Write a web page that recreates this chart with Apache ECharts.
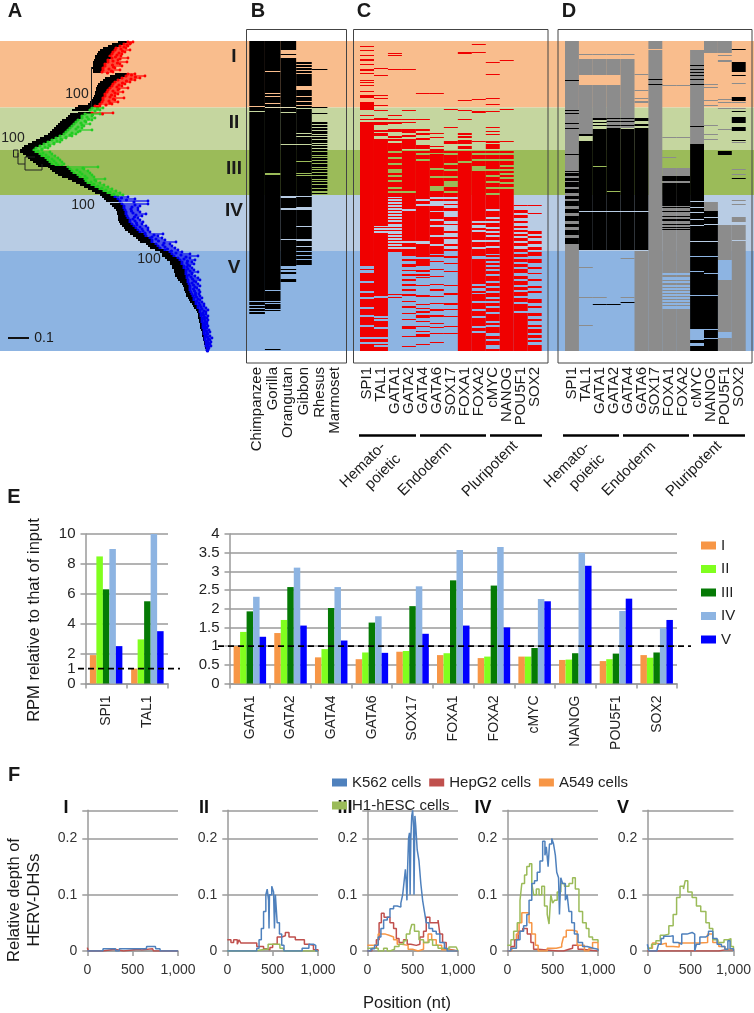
<!DOCTYPE html>
<html><head><meta charset="utf-8">
<style>html,body{margin:0;padding:0;background:#fff}#c{width:754px;height:1013px}</style>
<script src="https://cdn.jsdelivr.net/npm/echarts@6/dist/echarts.min.js"></script>
</head><body><div id="c"></div>
<script>
const FONT='"Liberation Sans",Arial,sans-serif';
// ---- band edges (rows) ----
const bandEdges=[0,66.5,109,154,210,310];
const bandColors=['#F9BD8D','#C5D69F','#9BBB59','#B8CCE4','#8DB4E2'];
const bandNames=['I','II','III','IV','V'];
// ---- tree rows: [row,left,mid,tip,clade] ----
const treeRed=[[1,118,128,133],[3,112,124,130],[5,108,120,128],[7,103,116,126],[9,100,115,130],[11,98,113,125],[13,97,112,122],[15,95,110,121],[17,95,112,128],[19,94,108,118],[21,93,108,127],[23,93,105,120],[25,93,105,122],[27,92,103,115],[29,93,103,120],[31,93,102,113],[33,115,128,135],[35,110,126,145],[37,105,122,140],[39,103,118,135],[41,100,115,130],[43,98,113,125],[45,97,112,122],[47,96,110,128],[49,96,108,118],[51,95,107,123],[53,95,105,118],[55,94,105,115],[57,93,103,124],[59,92,103,115],[61,90,102,118],[63,88,100,112],[65,78,95,100],[72,78,92,113]];
const treeGreen=[[67,75,92,103],[69,72,90,100],[73,70,85,100],[75,68,82,92],[77,66,82,95],[79,62,78,92],[81,60,76,86],[83,58,74,90],[85,56,72,84],[87,54,70,82],[89,52,68,92],[91,50,66,78],[93,48,64,76],[95,44,60,72],[97,40,56,66],[99,36,52,62],[101,32,48,60],[103,28,44,54],[105,24,40,50],[107,22,36,48],[109,20,34,42],[111,20,36,50],[113,23,40,52],[115,26,42,55],[117,28,46,58],[119,30,48,60],[121,33,50,62],[123,36,52,64],[125,38,56,62],[126,48,68,98],[128,50,70,84],[130,52,72,88],[132,55,74,90],[134,58,78,92],[136,62,80,94],[138,68,85,105],[140,72,86,96],[142,76,88,100],[144,80,92,104],[146,84,96,108],[148,88,100,112],[150,92,104,116],[152,95,108,120],[154,100,112,123]];
const treeBlue=[[156,102,115,128],[158,104,118,135],[160,106,120,148],[163,110,122,148],[165,112,124,140],[167,114,124,138],[169,116,125,138],[171,117,126,140],[173,117,126,146],[175,118,127,142],[177,118,128,138],[179,118,130,140],[181,119,130,143],[183,120,132,142],[185,122,134,146],[187,124,136,148],[189,125,138,148],[191,128,140,150],[193,130,145,163],[195,133,146,158],[197,136,150,162],[199,138,152,165],[201,140,152,176],[203,146,156,170],[205,148,158,172],[207,150,160,175],[209,155,165,178],[211,160,170,182],[213,162,172,190],[215,162,174,198],[217,165,178,190],[219,167,180,195],[221,170,182,192],[223,170,182,194],[225,172,184,190],[227,172,184,192],[229,174,186,194],[231,174,186,198],[233,175,186,192],[235,175,187,195],[237,177,187,198],[239,178,188,200],[241,180,188,196],[243,182,189,198],[245,183,190,200],[247,184,190,197],[249,184,190,199],[251,185,191,200],[253,186,192,199],[255,186,193,200],[257,188,194,202],[259,189,194,200],[261,190,196,202],[263,192,196,204],[265,193,198,204],[267,194,198,206],[269,196,200,208],[271,197,200,206],[273,198,201,206],[275,198,201,208],[277,198,202,207],[279,199,202,208],[281,199,202,207],[283,200,203,207],[285,200,203,208],[287,200,203,207],[289,201,204,209],[291,202,204,210],[293,202,204,208],[295,202,205,210],[297,203,205,212],[299,203,205,210],[301,204,206,211],[303,204,206,210],[305,205,206,211],[307,205,207,209],[309,206,207,208]];
const treeStems=[[91.5,26],[91.5,66],null,[13.5,109],[13.5,116],[18,116],[18,109],[13.5,109],null,[18,112],[18,123],[25,123],[25,116],[35,116],null,[25,123],[25,129],[42,129],[42,123]];
const treeBoot=[['100',77,53],['100',13,97],['100',83,164],['100',149,218]];
// ---- panel B ----
const species=['Chimpanzee','Gorilla','Orangutan','Gibbon','Rhesus','Marmoset'];
const bChimp=[[0,65],[66,70],[71,260],[261,264],[265,267],[268,270],[271,273]];
const bGorilla=[[0,30],[31,52],[53,55],[56,62],[63,66],[67,132],[134,249],[250,260],[261,262],[263,268],[269,270],[308,309]];
const bOrangutan=[[0,9],[13,14],[17,66],[67,71],[72,103],[104,155],[157,167],[169,198],[199,225],[228,229],[231,233],[238,241]];
const bGibbon=[[21,23],[24,26],[27,29],[30,32],[33,45],[49,55],[56,60],[61,64],[65,67],[68,92],[93,95],[96,103],[104,120],[121,132],[133,134],[135,155],[156,166],[169,185],[186,198],[200,205],[206,210],[211,214],[215,218],[219,224]];
const bRhesus=[[28,29],[66,67],[72,73],[81,83],[84,86],[87,89],[90,93],[94,95],[96,98],[99,102],[103,104],[105,107],[108,110],[111,114],[115,116],[117,119],[120,122],[123,126],[127,128],[129,131],[132,134],[135,138],[139,140],[141,143],[144,147],[148,150],[152,153]];
const bMarmoset=[];
// ---- TF list ----
const tfs=['SPI1','TAL1','GATA1','GATA2','GATA4','GATA6','SOX17','FOXA1','FOXA2','cMYC','NANOG','POU5F1','SOX2'];
// ---- panel C ----
const cSPI1=[[5,6],[9,10],[14,15],[18,20],[23,24],[28,30],[32,33],[39,40],[41,42],[44,45],[50,51],[54,57],[61,69],[74,75],[78,79],[81,225],[228,229],[232,240],[242,250],[252,256],[258,266],[268,274],[276,284],[286,296],[298,301],[303,310]];
const cTAL1=[[27,28],[34,35],[54,55],[57,58],[64,65],[69,70],[77,79],[81,84],[89,91],[92,95],[98,185],[186,187],[189,190],[192,255],[257,275],[277,278],[280,286],[288,296],[298,301],[303,304],[306,310]];
const cGATA1=[[12,13],[14,15],[28,29],[74,75],[78,79],[81,83],[88,91],[95,97],[98,100],[102,110],[112,116],[118,122],[124,128],[132,134],[136,139],[141,146],[148,150],[152,156],[157,158],[160,161],[163,164],[166,167],[169,170],[172,173],[175,176],[178,179],[181,183],[186,187],[189,190],[193,194],[196,197],[199,200],[202,203],[205,206],[208,211],[253,254],[256,257]];
const cGATA2=[[28,29],[69,70],[78,79],[81,82],[88,92],[94,96],[98,108],[110,150],[152,168],[170,200],[202,206],[208,215],[218,220],[223,226],[229,230],[233,235],[238,240],[243,245],[248,250],[253,255],[260,261],[265,267],[272,273],[278,279],[285,288],[295,296],[305,306]];
const cGATA4=[[52,53],[78,79],[88,90],[92,94],[97,99],[104,108],[110,112],[114,118],[120,158],[160,163],[165,200],[203,216],[218,225],[229,231],[233,235],[236,237],[244,245],[254,256],[263,264],[267,268],[270,272],[274,277],[280,281],[285,286],[290,291],[293,296],[303,304]];
const cGATA6=[[52,53],[92,93],[96,97],[105,106],[108,112],[113,127],[129,135],[137,145],[150,156],[158,160],[165,170],[171,178],[180,184],[186,194],[196,203],[205,213],[214,216],[220,221],[228,229],[235,236],[243,244],[248,250],[255,256],[262,263],[268,270],[274,276],[282,283],[286,287],[292,293],[301,302]];
const cSOX17=[[68,69],[86,87],[100,103],[110,112],[114,122],[124,128],[130,135],[137,140],[146,150],[152,156],[158,160],[163,164],[167,170],[176,180],[183,184],[190,192],[196,198],[203,205],[208,210],[215,217],[222,223],[230,231],[244,245],[252,254],[262,264],[268,269],[275,276],[285,286],[292,293]];
const cFOXA1=[[11,13],[59,60],[69,70],[78,79],[92,94],[95,97],[99,103],[105,108],[110,120],[122,310]];
const cFOXA2=[[3,4],[11,12],[58,59],[70,72],[100,101],[110,112],[114,118],[120,125],[130,180],[182,184],[187,189],[191,199],[201,206],[208,215],[218,243],[245,247],[250,252],[253,260],[262,268],[270,275],[277,285],[287,290],[292,310]];
const cMYC=[[21,22],[33,34],[57,58],[63,64],[70,71],[86,87],[90,91],[93,94],[100,102],[103,108],[110,112],[114,118],[120,128],[130,134],[136,140],[142,146],[148,152],[154,168],[170,176],[178,180],[182,186],[188,190],[192,194],[196,199],[201,205],[207,213],[214,216],[218,220],[222,224],[226,228],[230,233],[235,240],[242,245],[247,250],[252,256],[258,260],[262,265],[267,271],[273,280],[282,284],[286,292],[295,298],[300,304],[308,310]];
const cNANOG=[[19,20],[68,69],[100,101],[110,112],[114,118],[120,124],[126,128],[130,132],[134,136],[138,141],[143,146],[148,310]];
const cPOU5F1=[[164,165],[169,172],[174,177],[180,182],[185,187],[189,191],[193,195],[197,200],[202,205],[208,211],[213,216],[218,221],[223,226],[228,232],[235,238],[240,244],[246,249],[251,255],[257,261],[263,270],[272,310]];
const cSOX2=[[164,165],[172,173],[190,193],[195,197],[200,203],[206,209],[211,215],[218,222],[226,228],[232,233],[238,240],[245,247],[250,252],[258,262],[265,267],[272,275],[278,280],[284,286],[288,292],[294,297],[299,301],[304,310]];
// ---- panel D: grey (no-motif) and black (motif) runs ----
const dGrey=[
 [[0,310]],
 [[13,14],[18,34],[44,94],[226,227],[256,257],[284,285]],
 [[13,14],[18,34],[44,77],[256,257]],
 [[13,14],[18,34],[44,87]],
 [[13,14],[18,87],[217,218],[256,257]],
 [[33,34],[49,50],[57,58],[60,62],[210,310]],
 [[0,8],[9,310]],
 [[44,45],[96,97],[116,117],[127,232],[234,236],[239,240],[242,244],[246,247],[249,250],[252,253],[255,256],[258,259],[261,262],[264,265],[268,310]],
 [[44,45],[96,97],[127,232],[234,236],[239,240],[242,244],[246,247],[249,250],[252,253],[255,256],[258,259],[261,262],[264,265],[268,310]],
 [[9,103]],
 [[0,12],[43,44],[46,47],[59,60],[64,65],[84,85],[93,94],[98,99],[161,170]],
 [[0,12],[14,15],[19,21],[58,59],[61,62],[67,68],[88,89],[184,219],[239,291],[297,310]],
 [[42,43],[56,57],[61,62],[67,68],[101,102],[128,129],[133,134],[159,160],[163,164],[176,181],[184,199],[200,310]]
];
const dBlack=[
 [[39,40],[69,70],[72,73],[82,83],[87,88],[113,114],[130,131],[132,135],[137,140],[141,146],[148,152],[155,158],[160,165],[168,172],[175,180],[183,186],[189,194],[197,203]],
 [[93,95],[100,170],[171,209]],
 [[77,79],[81,82],[84,85],[88,125],[126,170],[171,209],[263,264]],
 [[77,78],[80,81],[84,85],[87,150],[151,170],[171,209],[263,264]],
 [[77,78],[80,81],[84,85],[88,170],[171,209],[261,262]],
 [[77,80],[83,85],[87,170],[171,209]],
 [[38,39],[43,44]],
 [[135,140],[142,165],[166,167],[170,171],[175,176],[178,180],[183,184],[186,187],[188,189]],
 [[135,140],[142,165],[166,167],[170,171],[175,176],[178,180],[183,184],[186,187],[188,189]],
 [[24,25],[28,29],[31,32],[34,35],[38,39],[43,44],[85,86],[103,160],[161,166],[167,171],[172,178],[179,184],[185,200],[201,215],[216,230],[231,254],[255,288],[299,302],[305,310]],
 [[170,176],[177,183],[184,200],[201,215],[216,232],[233,254],[255,288],[289,297],[298,310]],
 [[110,114]],
 [[8,9],[21,31],[34,35],[56,60],[70,71],[76,82],[86,90],[99,100],[137,138]]
];
// ---- panel E ----
const eNames=['I','II','III','IV','V'];
const eColors=['#F79646','#80FF1E','#057A05','#8DB4E2','#0000FF'];
const eLeftCats=['SPI1','TAL1'];
const eLeftI=[1.9,1.0],eLeftII=[8.5,2.95],eLeftIII=[6.3,5.5],eLeftIV=[9.0,10],eLeftV=[2.5,3.5];
const eCats=['GATA1','GATA2','GATA4','GATA6','SOX17','FOXA1','FOXA2','cMYC','NANOG','POU5F1','SOX2'];
const eI=[1.0,1.35,0.7,0.65,0.85,0.76,0.68,0.72,0.63,0.6,0.76];
const eII=[1.38,1.7,0.92,0.83,0.87,0.81,0.72,0.72,0.64,0.65,0.69];
const eIII=[1.93,2.58,2.02,1.63,2.07,2.76,2.62,0.95,0.81,0.8,0.83];
const eIV=[2.32,3.1,2.58,1.8,2.6,3.57,3.65,2.26,3.5,1.94,1.48];
const eV=[1.25,1.55,1.15,0.82,1.33,1.55,1.5,2.2,3.15,2.27,1.7];
// ---- panel F ----
const fNames=['K562 cells','HepG2 cells','A549 cells','H1-hESC cells'];
const fColors=['#4F81BD','#C0504D','#F79646','#9BBB59'];
const f1K=[[0,0],[170,0],[175,0.004],[310,0.004],[315,0],[350,0],[355,0.004],[650,0.004],[655,0.008],[750,0.008],[755,0.004],[800,0.004],[805,0],[1000,0]];
const f1H=[[0,0.006],[12,0],[170,0],[175,0.003],[300,0.003],[305,0],[400,0],[405,0.003],[560,0.002],[600,0.004],[720,0.003],[730,0],[1000,0]];
const f1A=[[0,0],[1000,0]];
const f1E=[[0,0],[1000,0]];
const f2K=[[0,0],[300,0],[325,0.005],[350,0.02],[375,0.04],[400,0.07],[425,0.1],[440,0.11],[455,0.09],[460,0.04],[465,0.1],[490,0.115],[510,0.105],[520,0.04],[530,0.1],[550,0.05],[575,0.03],[600,0.01],[625,0],[800,0],[825,0.005],[900,0.012],[950,0.01],[975,0],[1000,0]];
const f2H=[[0,0.02],[40,0.015],[70,0.02],[110,0.012],[130,0.02],[150,0.014],[300,0.014],[325,0.008],[400,0.004],[430,0.002],[470,0.006],[500,0.012],[550,0.025],[600,0.027],[640,0.033],[680,0.025],[750,0.02],[800,0.02],[850,0.012],[900,0.01],[950,0.002],[1000,0]];
const f2A=[[0,0],[1000,0]];
const f2E=[[0,0],[300,0],[320,0.003],[420,0.003],[450,0.012],[550,0.012],[580,0.005],[620,0],[1000,0]];
const f3K=[[0,0],[40,0.004],[80,0.01],[120,0.025],[150,0.04],[180,0.055],[220,0.06],[250,0.075],[290,0.08],[330,0.078],[370,0.085],[390,0.1],[410,0.13],[420,0.145],[430,0.12],[437,0.09],[445,0.15],[455,0.2],[465,0.21],[472,0.1],[480,0.2],[490,0.24],[500,0.25],[510,0.22],[515,0.1],[525,0.24],[535,0.22],[550,0.18],[570,0.16],[590,0.12],[610,0.09],[630,0.07],[650,0.05],[680,0.04],[720,0.035],[760,0.03],[800,0.015],[850,0.005],[880,0],[1000,0]];
const f3H=[[0,0],[50,0.005],[100,0.02],[130,0.05],[155,0.067],[185,0.06],[215,0.06],[250,0.05],[290,0.04],[320,0.022],[350,0.015],[400,0.02],[440,0.012],[480,0.01],[540,0.012],[580,0.025],[620,0.035],[650,0.06],[690,0.05],[750,0.05],[780,0.055],[800,0.03],[830,0.015],[870,0.003],[900,0],[1000,0]];
const f3A=[[0,0.01],[60,0.012],[120,0.03],[160,0.03],[200,0.028],[240,0.025],[290,0.02],[330,0.012],[380,0.01],[450,0.003],[500,0],[560,0.003],[620,0.015],[670,0.03],[710,0.02],[760,0.01],[820,0.002],[900,0],[1000,0]];
const f3E=[[0,0.005],[60,0.005],[120,0],[180,0.005],[220,0],[250,0.003],[300,0.008],[350,0.012],[400,0.018],[430,0.03],[470,0.035],[490,0.047],[520,0.035],[570,0.02],[620,0.015],[680,0.02],[720,0.01],[780,0.005],[850,0.003],[900,0.007],[980,0.007],[1000,0]];
const f4K=[[0,0],[40,0.005],[100,0.02],[140,0.035],[180,0.045],[215,0.065],[240,0.09],[270,0.12],[300,0.125],[330,0.14],[360,0.16],[390,0.195],[415,0.17],[430,0.185],[450,0.15],[465,0.19],[490,0.2],[510,0.19],[530,0.17],[545,0.14],[565,0.13],[575,0.065],[590,0.13],[610,0.12],[640,0.09],[660,0.1],[680,0.07],[710,0.05],[740,0.03],[780,0.015],[830,0.008],[880,0.005],[950,0.003],[1000,0]];
const f4H=[[0,0],[40,0.008],[80,0.02],[120,0.035],[170,0.04],[220,0.03],[260,0.015],[290,0.003],[340,0],[560,0],[620,0.003],[680,0.005],[720,0.01],[780,0.003],[820,0],[1000,0]];
const f4A=[[0,0],[50,0.005],[100,0.03],[130,0.05],[160,0.068],[210,0.068],[240,0.05],[270,0.03],[310,0.01],[340,0],[440,0.005],[540,0.007],[600,0.012],[620,0.025],[650,0.037],[720,0.035],[770,0.01],[850,0],[900,0.005],[940,0.015],[1000,0]];
const f4E=[[0,0.01],[40,0.02],[70,0.035],[110,0.05],[140,0.09],[160,0.12],[190,0.135],[215,0.15],[245,0.155],[270,0.12],[290,0.1],[320,0.11],[350,0.1],[380,0.115],[410,0.08],[440,0.065],[460,0.048],[480,0.1],[500,0.085],[520,0.09],[550,0.105],[590,0.12],[630,0.115],[680,0.12],[720,0.13],[750,0.11],[790,0.07],[830,0.05],[870,0.04],[900,0.025],[940,0.02],[1000,0.015]];
const f5K=[[0,0.012],[20,0],[110,0],[130,0.012],[160,0.022],[190,0.026],[260,0.027],[300,0.015],[360,0.012],[400,0.03],[460,0.033],[520,0.03],[550,0],[570,0.012],[610,0.025],[680,0.028],[710,0.035],[760,0.022],[810,0.012],[860,0.008],[900,0.003],[935,0.018],[960,0.004],[1000,0]];
const f5H=[[0,0],[790,0],[830,0.002],[900,0.002],[1000,0]];
const f5A=[[0,0.005],[60,0.014],[100,0.012],[170,0.014],[220,0.008],[300,0.007],[370,0.014],[450,0.014],[520,0.014],[600,0.015],[700,0.03],[760,0.015],[830,0.008],[900,0.003],[1000,0]];
const f5E=[[0,0.005],[50,0.012],[100,0.018],[150,0.028],[200,0.03],[250,0.045],[300,0.065],[340,0.095],[380,0.115],[420,0.11],[440,0.125],[470,0.105],[520,0.095],[570,0.08],[620,0.07],[680,0.05],[720,0.04],[760,0.02],[820,0.015],[890,0.02],[940,0.022],[970,0.008],[1000,0.002]];
const fPanels=[['I',f1K,f1H,f1A,f1E],['II',f2K,f2H,f2A,f2E],['III',f3K,f3H,f3A,f3E],['IV',f4K,f4H,f4A,f4E],['V',f5K,f5H,f5A,f5E]];

// ---- layout ----
const grids=[],xAxes=[],yAxes=[],series=[],gfx=[];
function addGrid(g,x,y){grids.push(g);const i=grids.length-1;xAxes.push(Object.assign({gridIndex:i},x));yAxes.push(Object.assign({gridIndex:i},y));return i;}
const hiddenAxis=a=>Object.assign({show:false},a);
const TOP=41,H=310;
const rowAxis=hiddenAxis({type:'value',min:0,max:310,inverse:true});
// bands
const gBand=addGrid({left:0,top:TOP,width:754,height:H},hiddenAxis({type:'value',min:0,max:1}),rowAxis);
series.push({type:'custom',xAxisIndex:gBand,yAxisIndex:gBand,z:-5,silent:true,clip:false,
 data:bandNames.map((n,i)=>[0,bandEdges[i],bandEdges[i+1],i]),
 renderItem:(p,api)=>{const a=api.coord([0,api.value(1)]),b=api.coord([1,api.value(2)]);
  return {type:'rect',shape:{x:a[0],y:a[1],width:b[0]-a[0],height:b[1]-a[1]},style:{fill:bandColors[api.value(3)]}};}});
// tree
const gTree=addGrid({left:0,top:TOP,width:246,height:H},hiddenAxis({type:'value',min:0,max:246}),rowAxis);
const treeCols=['#ff0000','#22cc22','#0000ee'];
const treeData=[...treeRed.map(r=>[...r,0]),...treeGreen.map(r=>[...r,1]),...treeBlue.map(r=>[...r,2])];
series.push({type:'custom',xAxisIndex:gTree,yAxisIndex:gTree,silent:true,clip:false,data:treeData,
 renderItem:(p,api)=>{const y=api.value(0),L=api.coord([api.value(1),y]),M=api.coord([api.value(2),y]),T=api.coord([api.value(3),y]),c=treeCols[api.value(4)];
  return {type:'group',children:[
   {type:'line',shape:{x1:L[0],y1:L[1],x2:M[0],y2:M[1]},style:{stroke:'#000',lineWidth:2}},
   {type:'line',shape:{x1:M[0],y1:M[1],x2:T[0],y2:T[1]},style:{stroke:c,lineWidth:1.2}},
   {type:'circle',shape:{cx:M[0],cy:M[1],r:1.6},style:{fill:c}},
   {type:'circle',shape:{cx:(M[0]+T[0])/2,cy:M[1]+1,r:1.6},style:{fill:c}},
   {type:'circle',shape:{cx:T[0],cy:T[1],r:1.4},style:{fill:c}}]};}});
series.push({type:'line',xAxisIndex:gTree,yAxisIndex:gTree,silent:true,showSymbol:false,connectNulls:false,clip:false,
 data:treeStems.map(p=>p||[null,null]),lineStyle:{color:'#222',width:1}});
// heat panels
function heatPanel(left,width,cats,cols,fontSize){
 const i=addGrid({left,top:TOP,width,height:H},
  {type:'category',data:cats,axisLine:{show:false},axisTick:{show:false},
   axisLabel:{rotate:90,interval:0,margin:16,fontFamily:FONT,fontSize,color:'#1a1a1a',hideOverlap:false}},rowAxis);
 const data=[];
 cols.forEach((c,k)=>c.runs.forEach(r=>data.push([k,r[0],r[1],c.color])));
 series.push({type:'custom',xAxisIndex:i,yAxisIndex:i,silent:true,clip:false,encode:{x:0,y:[1,2]},
  data:data.map(d=>[d[0],d[1],d[2]]),
  renderItem:(p,api)=>{const k=api.value(0),a=api.coord([k,api.value(1)]),b=api.coord([k,api.value(2)]),w=api.size([1,0])[0];
   return {type:'rect',shape:{x:a[0]-w/2,y:a[1],width:w,height:b[1]-a[1]},style:{fill:data[p.dataIndex][3]}};}});
}
heatPanel(249.3,93.7,species,[bChimp,bGorilla,bOrangutan,bGibbon,bRhesus,bMarmoset].map(r=>({runs:r,color:'#000'})),15);
heatPanel(360,181.7,tfs,[cSPI1,cTAL1,cGATA1,cGATA2,cGATA4,cGATA6,cSOX17,cFOXA1,cFOXA2,cMYC,cNANOG,cPOU5F1,cSOX2].map(r=>({runs:r,color:'#f00000'})),15);
(function(){
 const cols=[];dGrey.forEach(r=>cols.push(0));
 const i=addGrid({left:565,top:TOP,width:180.7,height:H},
  {type:'category',data:tfs,axisLine:{show:false},axisTick:{show:false},
   axisLabel:{rotate:90,interval:0,margin:16,fontFamily:FONT,fontSize:15,color:'#1a1a1a'}},rowAxis);
 const data=[];
 dGrey.forEach((c,k)=>c.forEach(r=>data.push([k,r[0],r[1],0])));
 dBlack.forEach((c,k)=>c.forEach(r=>data.push([k,r[0],r[1],1])));
 series.push({type:'custom',xAxisIndex:i,yAxisIndex:i,silent:true,clip:false,encode:{x:0,y:[1,2]},data,
  renderItem:(p,api)=>{const k=api.value(0),a=api.coord([k,api.value(1)]),b=api.coord([k,api.value(2)]),w=api.size([1,0])[0];
   return {type:'rect',shape:{x:a[0]-w/2,y:a[1],width:w,height:b[1]-a[1]},style:{fill:api.value(3)?'#000':'#8c8c8c'}};}});
})();
// panel E
const GRID='#9a9a9a';
const labelE={fontFamily:FONT,fontSize:15,color:'#222'};
function barPanel(left,width,cats,yMax,interval,vals,yExtra){
 const i=addGrid({left,top:534,width,height:149.5},
  {type:'category',data:cats,axisLine:{lineStyle:{color:GRID,width:1.5}},axisTick:{show:true,length:5,alignWithLabel:false,lineStyle:{color:GRID,width:1.5}},
   axisLabel:{rotate:90,interval:0,margin:12,fontFamily:FONT,fontSize:14,color:'#222'}},
  Object.assign({type:'value',min:0,max:yMax,interval,
   axisLine:{show:true,lineStyle:{color:GRID,width:1.5}},axisTick:{show:true,length:5,lineStyle:{color:GRID,width:1.5}},
   splitLine:{lineStyle:{color:GRID,width:1.5}},axisLabel:Object.assign({margin:10},labelE)},yExtra||{}));
 vals.forEach((v,k)=>series.push({type:'bar',name:eNames[k],xAxisIndex:i,yAxisIndex:i,data:v,barWidth:6.5,barGap:'0%',
  itemStyle:{color:eColors[k]},silent:true,z:3}));
 return i;
}
barPanel(85.5,82.5,eLeftCats,10,2,[eLeftI,eLeftII,eLeftIII,eLeftIV,eLeftV],
 {axisLabel:Object.assign({margin:10,customValues:[0,1,2,4,6,8,10]},labelE)});
barPanel(229.5,447.5,eCats,4,0.5,[eI,eII,eIII,eIV,eV]);
function dash(left,width,yMax){
 const i=addGrid({left,top:534,width,height:149.5},hiddenAxis({type:'value',min:0,max:1}),hiddenAxis({type:'value',min:0,max:yMax}));
 series.push({type:'line',xAxisIndex:i,yAxisIndex:i,silent:true,showSymbol:false,z:6,data:[[0,1],[1,1]],lineStyle:{color:'#000',width:1.8,type:[6,4]}});
}
dash(78,102,10);dash(218,473,4);
// panel F
const fLefts=[87.3,227.3,367.3,507.3,647.3];
fPanels.forEach((p,k)=>{
 const i=addGrid({left:fLefts[k],top:810.3,width:90.7,height:140.7},
  {type:'value',min:0,max:1000,interval:500,axisLine:{lineStyle:{color:GRID,width:1.5}},axisTick:{show:true,length:5,lineStyle:{color:GRID,width:1.5}},
   splitLine:{show:false},axisLabel:{margin:12,fontFamily:FONT,fontSize:14,color:'#333',hideOverlap:false,showMinLabel:true,showMaxLabel:true}},
  {type:'value',min:0,max:0.25,interval:0.1,axisLine:{show:true,lineStyle:{color:GRID,width:1.5}},axisTick:{show:true,length:5,lineStyle:{color:GRID,width:1.5}},
   splitLine:{lineStyle:{color:GRID,width:1.5}},axisLabel:{margin:10,fontFamily:FONT,fontSize:14,color:'#333',customValues:[0,0.1,0.2],formatter:v=>v===0?'0':String(v)}});
 [1,2,3,4].forEach((j,c)=>{if(p[j]===f1A||p[j]===f1E||p[j]===f2A)return;
  series.push({type:'line',name:fNames[c],xAxisIndex:i,yAxisIndex:i,data:p[j],step:'end',showSymbol:false,silent:true,
   z:c===0?6:3+c*0.1,lineStyle:{color:fColors[c],width:1.5},itemStyle:{color:fColors[c]}});});
 gfx.push({type:'text',x:[66,204,345,483,623][k],y:808,style:{text:p[0],font:'bold 18px '+FONT,fill:'#111',textAlign:'center',textVerticalAlign:'middle'}});
});
// panel boxes
[[246.5,100],[353.5,194.5],[558,194]].forEach(b=>gfx.push({type:'rect',z:9,shape:{x:b[0],y:29.5,width:b[1],height:333.5},style:{fill:'none',stroke:'#444',lineWidth:1}}));
// group bars
[[359,416],[420,486],[490,542],[563,619],[623,689],[693,745]].forEach(b=>gfx.push({type:'line',shape:{x1:b[0],y1:435.5,x2:b[1],y2:435.5},style:{stroke:'#000',lineWidth:2.5}}));
const T=(text,x,y,font,opt)=>gfx.push(Object.assign({type:'text',z:10,x,y,style:{text,font:font+' '+FONT,fill:'#1a1a1a',textAlign:'center',textVerticalAlign:'middle'}},opt||{}));
[['A',15,11],['B',258,11],['C',364,11],['D',569,11],['E',14,497],['F',14,775]].forEach(a=>T(a[0],a[1],a[2],'bold 20px'));
[['I',57],['II',123],['III',169],['IV',211],['V',268]].forEach(a=>T(a[0],234,a[1],'bold 19px'));
treeBoot.forEach(b=>T(b[0],b[1],b[2]+41,'14px',{style:{text:b[0],font:'14px '+FONT,fill:'#222',textAlign:'center',textVerticalAlign:'middle'}}));
gfx.push({type:'line',shape:{x1:8,y1:338,x2:29,y2:338},style:{stroke:'#111',lineWidth:2}});
T('0.1',44,338,'14px');
const R45=Math.PI/4;
[[0,0],[204,0]].forEach(o=>{
 T('Hemato-',363+o[0],465,'15px',{rotation:R45});
 T('poietic',383+o[0],472,'15px',{rotation:R45});
 T('Endoderm',425+o[0],469,'15px',{rotation:R45});
 T('Pluripotent',490+o[0],469,'15px',{rotation:R45});
});
T('RPM relative to that of input',34,620,'16.5px',{rotation:Math.PI/2});
T('Relative depth of',14,900,'16.5px',{rotation:Math.PI/2});
T('HERV-DHSs',34,900,'16.5px',{rotation:Math.PI/2});
T('Position (nt)',407,1003,'16.5px');

const option={animation:false,backgroundColor:'#fff',textStyle:{fontFamily:FONT},
 grid:grids.map(g=>Object.assign({containLabel:false},g)),xAxis:xAxes,yAxis:yAxes,series,graphic:gfx,
 legend:[
  {data:eNames.map(n=>({name:n})),orient:'vertical',left:696,top:533,itemWidth:15,itemHeight:8,itemGap:8.5,icon:'rect',selectedMode:false,
   textStyle:{fontFamily:FONT,fontSize:15,color:'#222',width:32,align:'center',lineHeight:11}},
  {data:fNames.map(n=>({name:n})),orient:'horizontal',left:327,top:770,itemWidth:15,itemHeight:8,itemGap:8,icon:'rect',selectedMode:false,
   textStyle:{fontFamily:FONT,fontSize:15,color:'#222'}}
 ]};
const chart=echarts.init(document.getElementById('c'),null,{renderer:'canvas'});
chart.setOption(option);
</script></body></html>
